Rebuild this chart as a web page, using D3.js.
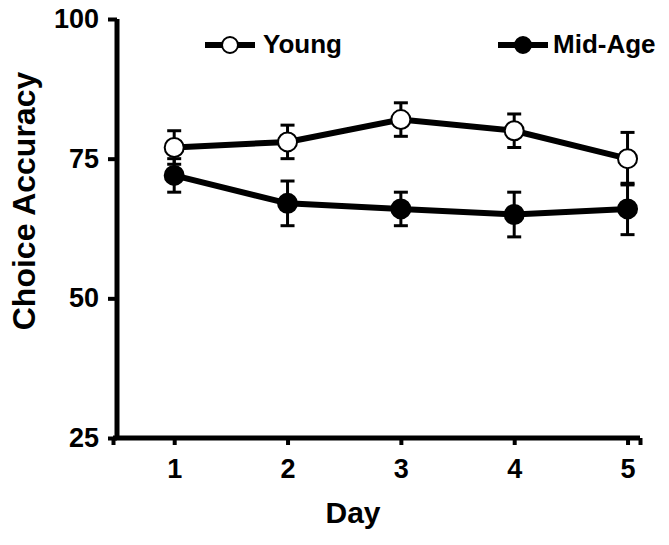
<!DOCTYPE html>
<html><head><meta charset="utf-8">
<script src="https://cdn.jsdelivr.net/npm/d3@7"></script>
<style>body{margin:0;background:#fff}text{font-family:Arial,"Liberation Sans",sans-serif;font-weight:bold;fill:#000}</style>
</head><body><svg id="c" width="669" height="545"></svg>
<script>
const days = [1, 2, 3, 4, 5];
const seriesNames = ["Young", "Mid-Age"];
const youngMean = [77, 78, 82, 80, 75];
const youngErr  = [3, 3, 3, 3, 4.7];
const midMean   = [72, 67, 66, 65, 66];
const midErr    = [3, 4, 3, 4, 4.6];
const yTicks = [25, 50, 75, 100];

const svg = d3.select("#c");
const x = d3.scaleLinear().domain([0.46, 5.11]).range([113, 640]);
const y = d3.scaleLinear().domain([25, 100]).range([438, 19]);

// axes
const yAxis = d3.axisLeft(y).tickValues(yTicks).tickSize(9).tickPadding(9);
const gy = svg.append("g").attr("transform", "translate(117,0)").call(yAxis);
gy.select(".domain").attr("stroke-width", 5).attr("d", `M0,${y(100)}V${y(25)}`);
gy.selectAll(".tick line").attr("stroke-width", 4);
gy.selectAll(".tick text").style("font-size", "27px").style("font-family", "Arial, 'Liberation Sans', sans-serif").style("font-weight", "bold");

const xAxis = d3.axisBottom(x).tickValues([0.46, ...days, 5.11]).tickSize(7).tickPadding(14)
  .tickFormat(d => days.includes(d) ? d : "");
const gx = svg.append("g").attr("transform", "translate(0,438)").call(xAxis);
gx.select(".domain").attr("stroke-width", 5).attr("d", `M${x(0.46)},0H${x(5.11)}`);
gx.selectAll(".tick line").attr("stroke-width", 4);
gx.selectAll(".tick text").style("font-size", "27px").style("font-family", "Arial, 'Liberation Sans', sans-serif").style("font-weight", "bold");

// titles
svg.append("text").attr("transform", "translate(35,201) rotate(-90)").attr("text-anchor", "middle")
  .style("font-size", "32px").text("Choice Accuracy");
svg.append("text").attr("x", 353).attr("y", 523).attr("text-anchor", "middle")
  .style("font-size", "30px").text("Day");

const series = [
  {name: seriesNames[0], mean: youngMean, err: youngErr, fill: "#fff"},
  {name: seriesNames[1], mean: midMean, err: midErr, fill: "#000"}
];
const line = d3.line().x((d, i) => x(days[i])).y(d => y(d));

series.forEach(s => {
  svg.append("path").attr("d", line(s.mean)).attr("fill", "none").attr("stroke", "#000").attr("stroke-width", 6);
});
series.forEach(s => {
  const g = svg.append("g");
  s.mean.forEach((m, i) => {
    const cx = x(days[i]);
    const top = y(m + s.err[i]), bot = y(m - s.err[i]);
    g.append("line").attr("x1", cx).attr("x2", cx).attr("y1", top).attr("y2", bot).attr("stroke", "#000").attr("stroke-width", 3);
    [top, bot].forEach(yy => g.append("line").attr("x1", cx - 7).attr("x2", cx + 7).attr("y1", yy).attr("y2", yy).attr("stroke", "#000").attr("stroke-width", 3));
  });
});
series.forEach(s => {
  s.mean.forEach((m, i) => {
    svg.append("circle").attr("cx", x(days[i])).attr("cy", y(m)).attr("r", 9.5)
      .attr("fill", s.fill).attr("stroke", "#000").attr("stroke-width", 2);
  });
});

// legend
const leg = [{x1: 205, x2: 255, tx: 263}, {x1: 498, x2: 548, tx: 553}];
series.forEach((s, i) => {
  const L = leg[i];
  svg.append("line").attr("x1", L.x1).attr("x2", L.x2).attr("y1", 45).attr("y2", 45).attr("stroke", "#000").attr("stroke-width", 6);
  svg.append("circle").attr("cx", (L.x1 + L.x2) / 2).attr("cy", 45).attr("r", 8).attr("fill", s.fill).attr("stroke", "#000").attr("stroke-width", 2);
  svg.append("text").attr("x", L.tx).attr("y", 53).style("font-size", "26px").text(s.name);
});
</script></body></html>
